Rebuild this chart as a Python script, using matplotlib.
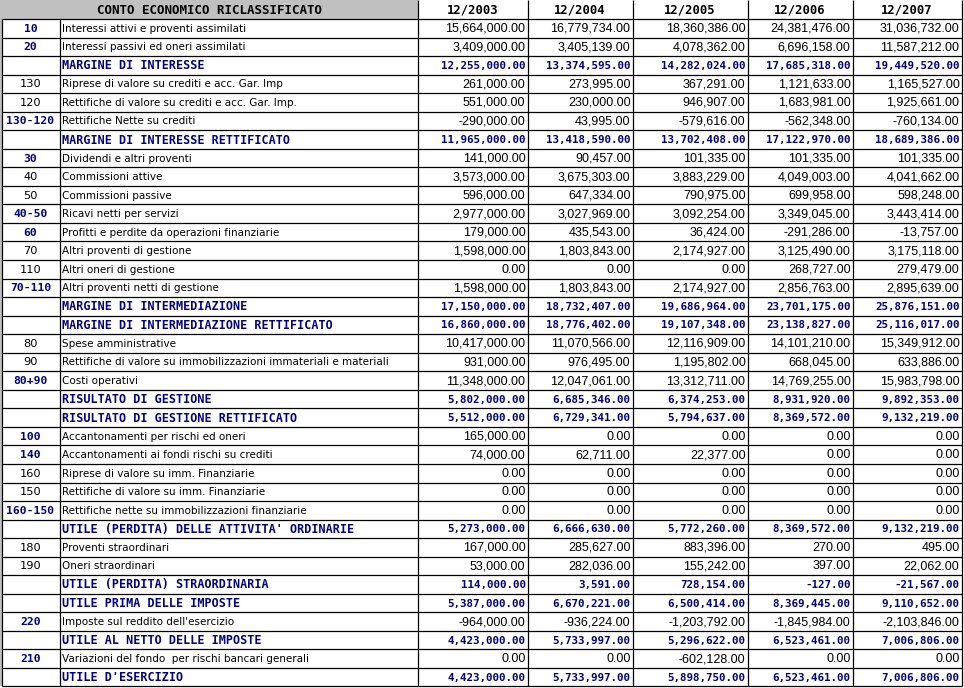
import matplotlib
matplotlib.use("Agg")
import matplotlib.pyplot as plt
from matplotlib.patches import Rectangle

title = "CONTO ECONOMICO RICLASSIFICATO"
years = ["12/2003", "12/2004", "12/2005", "12/2006", "12/2007"]

codes = ["10", "20", "", "130", "120", "130-120", "", "30", "40", "50", "40-50", "60",
         "70", "110", "70-110", "", "", "80", "90", "80+90", "", "", "100", "140", "160",
         "150", "160-150", "", "180", "190", "", "", "220", "", "210", ""]
bold_codes = ["10", "20", "130-120", "30", "40-50", "60", "70-110", "80+90", "100", "140",
              "160-150", "220", "210"]

labels = [
    "Interessi attivi e proventi assimilati",
    "Interessi passivi ed oneri assimilati",
    "MARGINE DI INTERESSE",
    "Riprese di valore su crediti e acc. Gar. Imp",
    "Rettifiche di valore su crediti e acc. Gar. Imp.",
    "Rettifiche Nette su crediti",
    "MARGINE DI INTERESSE RETTIFICATO",
    "Dividendi e altri proventi",
    "Commissioni attive",
    "Commissioni passive",
    "Ricavi netti per servizi",
    "Profitti e perdite da operazioni finanziarie",
    "Altri proventi di gestione",
    "Altri oneri di gestione",
    "Altri proventi netti di gestione",
    "MARGINE DI INTERMEDIAZIONE",
    "MARGINE DI INTERMEDIAZIONE RETTIFICATO",
    "Spese amministrative",
    "Rettifiche di valore su immobilizzazioni immateriali e materiali",
    "Costi operativi",
    "RISULTATO DI GESTIONE",
    "RISULTATO DI GESTIONE RETTIFICATO",
    "Accantonamenti per rischi ed oneri",
    "Accantonamenti ai fondi rischi su crediti",
    "Riprese di valore su imm. Finanziarie",
    "Rettifiche di valore su imm. Finanziarie",
    "Rettifiche nette su immobilizzazioni finanziarie",
    "UTILE (PERDITA) DELLE ATTIVITA' ORDINARIE",
    "Proventi straordinari",
    "Oneri straordinari",
    "UTILE (PERDITA) STRAORDINARIA",
    "UTILE PRIMA DELLE IMPOSTE",
    "Imposte sul reddito dell'esercizio",
    "UTILE AL NETTO DELLE IMPOSTE",
    "Variazioni del fondo  per rischi bancari generali",
    "UTILE D'ESERCIZIO",
]
total_rows = [2, 6, 15, 16, 20, 21, 27, 30, 31, 33, 35]

y2003 = [15664000, 3409000, 12255000, 261000, 551000, -290000, 11965000, 141000, 3573000,
         596000, 2977000, 179000, 1598000, 0, 1598000, 17150000, 16860000, 10417000, 931000,
         11348000, 5802000, 5512000, 165000, 74000, 0, 0, 0, 5273000, 167000, 53000, 114000,
         5387000, -964000, 4423000, 0, 4423000]
y2004 = [16779734, 3405139, 13374595, 273995, 230000, 43995, 13418590, 90457, 3675303,
         647334, 3027969, 435543, 1803843, 0, 1803843, 18732407, 18776402, 11070566, 976495,
         12047061, 6685346, 6729341, 0, 62711, 0, 0, 0, 6666630, 285627, 282036, 3591,
         6670221, -936224, 5733997, 0, 5733997]
y2005 = [18360386, 4078362, 14282024, 367291, 946907, -579616, 13702408, 101335, 3883229,
         790975, 3092254, 36424, 2174927, 0, 2174927, 19686964, 19107348, 12116909, 1195802,
         13312711, 6374253, 5794637, 0, 22377, 0, 0, 0, 5772260, 883396, 155242, 728154,
         6500414, -1203792, 5296622, -602128, 5898750]
y2006 = [24381476, 6696158, 17685318, 1121633, 1683981, -562348, 17122970, 101335, 4049003,
         699958, 3349045, -291286, 3125490, 268727, 2856763, 23701175, 23138827, 14101210,
         668045, 14769255, 8931920, 8369572, 0, 0, 0, 0, 0, 8369572, 270, 397, -127,
         8369445, -1845984, 6523461, 0, 6523461]
y2007 = [31036732, 11587212, 19449520, 1165527, 1925661, -760134, 18689386, 101335, 4041662,
         598248, 3443414, -13757, 3175118, 279479, 2895639, 25876151, 25116017, 15349912,
         633886, 15983798, 9892353, 9132219, 0, 0, 0, 0, 0, 9132219, 495, 22062, -21567,
         9110652, -2103846, 7006806, 0, 7006806]
series = [y2003, y2004, y2005, y2006, y2007]

# ---- layout (pixel units) ----
W, H = 964, 688
col_edges = [1.5, 59.5, 417.5, 527.5, 632.5, 747.5, 852.5, 961.5]
header_h = 19.0
row_h = 18.54
NAVY = "#000080"
GRAY = "#c0c0c0"

fig = plt.figure(figsize=(W / 100, H / 100), dpi=100)
ax = fig.add_axes([0, 0, 1, 1])
ax.set_xlim(0, W)
ax.set_ylim(H, 0)
ax.axis("off")
fig.patch.set_facecolor("white")

n = len(labels)
table_bottom = header_h + n * row_h

# backgrounds
ax.add_patch(Rectangle((0, 0), col_edges[2], header_h, facecolor=GRAY, edgecolor="none"))
ax.add_patch(Rectangle((0, 0), 1.5, H, facecolor=GRAY, edgecolor="none"))
ax.add_patch(Rectangle((0, table_bottom), W, H - table_bottom, facecolor="white", edgecolor="none"))

lw = 0.9
# horizontal lines
for i in range(n + 1):
    y = header_h + i * row_h
    ax.plot([col_edges[0], col_edges[-1]], [y, y], color="black", lw=lw, solid_capstyle="butt")
# vertical lines
for j, x in enumerate(col_edges):
    y0 = 0 if j >= 2 else header_h
    ax.plot([x, x], [y0, table_bottom], color="black", lw=lw, solid_capstyle="butt")

mono = "DejaVu Sans Mono"
sans_num = "Liberation Sans"
desc_font = "DejaVu Sans"

# header
ax.text((col_edges[0] + col_edges[2]) / 2, header_h / 2 + 0.5, title, ha="center", va="center",
        fontsize=9.0, fontweight="bold", family=mono, color="black")
for k, yr in enumerate(years):
    ax.text((col_edges[k + 2] + col_edges[k + 3]) / 2, header_h / 2 + 0.5, yr, ha="center",
            va="center", fontsize=8.8, fontweight="bold", family=mono, color="black")


def fmt(v):
    return f"{v:,.2f}"


for i in range(n):
    yc = header_h + (i + 0.5) * row_h + 0.5
    c = codes[i]
    if c:
        if c in bold_codes:
            ax.text((col_edges[0] + col_edges[1]) / 2, yc, c, ha="center", va="center",
                    fontsize=8.2, fontweight="bold", family=mono, color=NAVY)
        else:
            ax.text((col_edges[0] + col_edges[1]) / 2, yc, c, ha="center", va="center",
                    fontsize=8.2, family=desc_font, color="black")
    is_total = i in total_rows
    if is_total:
        ax.text(col_edges[1] + 3, yc, labels[i], ha="left", va="center", fontsize=8.5,
                fontweight="bold", family=mono, color=NAVY)
    else:
        ax.text(col_edges[1] + 3, yc, labels[i], ha="left", va="center", fontsize=7.45,
                family=desc_font, color="black")
    for k, s in enumerate(series):
        xr = col_edges[k + 3] - 2
        if is_total:
            ax.text(xr, yc, fmt(s[i]), ha="right", va="center", fontsize=7.8,
                    fontweight="bold", family=mono, color=NAVY)
        else:
            ax.text(xr, yc, fmt(s[i]), ha="right", va="center", fontsize=9,
                    family=sans_num, color="black")

fig.savefig("out.png", dpi=100)
